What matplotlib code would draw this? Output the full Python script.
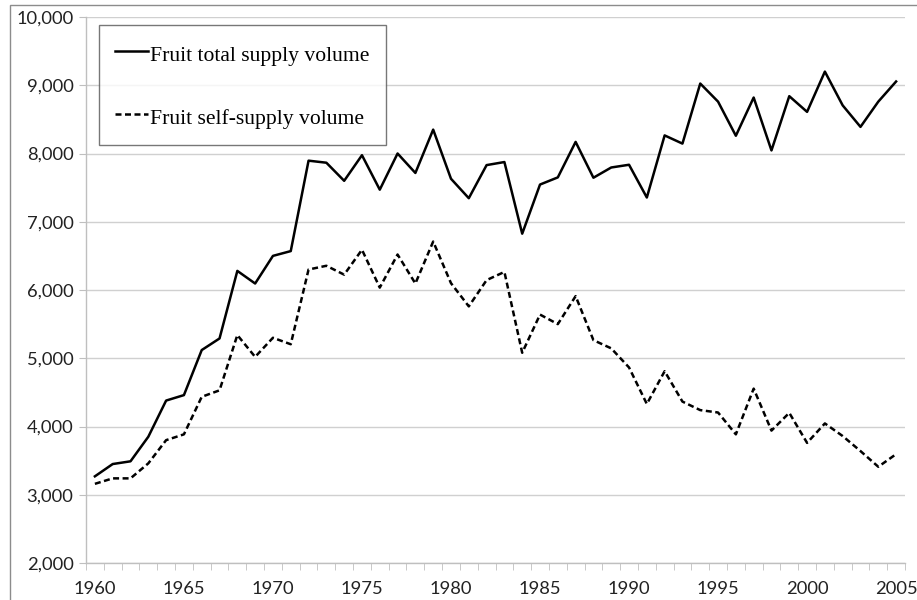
import matplotlib
matplotlib.use("Agg")
import matplotlib.pyplot as plt
from matplotlib.patches import Rectangle
from matplotlib.ticker import FuncFormatter, MultipleLocator

years = list(range(1960, 2006))

total_supply = [3270, 3450, 3490, 3850, 4380, 4460, 5120, 5290, 6280, 6095,
                6500, 6570, 7895, 7865, 7600, 7975, 7470, 8000, 7715, 8350,
                7630, 7345, 7830, 7875, 6825, 7545, 7650, 8170, 7645, 7795,
                7835, 7355, 8265, 8145, 9025, 8760, 8260, 8820, 8045, 8840,
                8610, 9200, 8705, 8390, 8760, 9055]

self_supply = [3160, 3240, 3240, 3460, 3800, 3885, 4435, 4530, 5340, 5020,
               5300, 5205, 6300, 6355, 6225, 6590, 6035, 6520, 6095, 6710,
               6100, 5760, 6145, 6265, 5080, 5640, 5500, 5910, 5265, 5145,
               4865, 4330, 4810, 4365, 4240, 4205, 3885, 4555, 3940, 4200,
               3760, 4045, 3860, 3640, 3410, 3595]

labels = ["Fruit total supply volume", "Fruit self-supply volume"]

fig = plt.figure(figsize=(9.17, 6.0), dpi=100)
W, H = 917, 600

# outer chart frame (cut off at right / bottom like the source)
fig.patches.append(Rectangle((10 / W, -0.1), 1.2, (595 / H) + 0.1,
                             transform=fig.transFigure, fill=False,
                             edgecolor="#8c8c8c", linewidth=1.0))

ax = fig.add_axes([86 / W, 37 / H, (905 - 86) / W, (563 - 17) / H])

ax.plot(years, total_supply, color="black", lw=1.8, label=labels[0])
ax.plot(years, self_supply, color="black", lw=1.8,
        linestyle=(0, (2.4, 1.4)), label=labels[1])

ax.set_xlim(1959.5, 2005.5)
ax.set_ylim(2000, 10000)
ax.yaxis.set_major_locator(MultipleLocator(1000))
ax.yaxis.set_major_formatter(FuncFormatter(lambda v, p: f"{int(v):,}"))
ax.set_xticks(range(1960, 2006, 5))
ax.set_xticks([y + 0.5 for y in range(1959, 2006)], minor=True)

ax.grid(axis="y", color="#d0d0d0", lw=1.0)
ax.set_axisbelow(True)
for side in ("top", "right"):
    ax.spines[side].set_visible(False)
for side in ("left", "bottom"):
    ax.spines[side].set_color("#bfbfbf")
    ax.spines[side].set_linewidth(1.0)

ax.tick_params(axis="x", which="major", length=0, pad=13)
ax.tick_params(axis="x", which="minor", length=5, color="#bfbfbf")
ax.tick_params(axis="y", length=5, color="#bfbfbf", pad=4)
for t in ax.get_xticklabels() + ax.get_yticklabels():
    t.set_family(["Lato", "DejaVu Sans"])
    t.set_fontsize(13.2)
    t.set_color("#222222")

leg = ax.legend(loc="upper left", bbox_to_anchor=(13 / 819, 1 - 8 / 546),
                prop={"family": "Liberation Serif", "size": 15.6},
                frameon=True, fancybox=False, edgecolor="#555555",
                handlelength=1.5, handleheight=1.4, handletextpad=0.1,
                labelspacing=1.75, borderpad=0.75, borderaxespad=0)
leg.get_frame().set_linewidth(1.0)

fig.savefig("out.png", dpi=100)
